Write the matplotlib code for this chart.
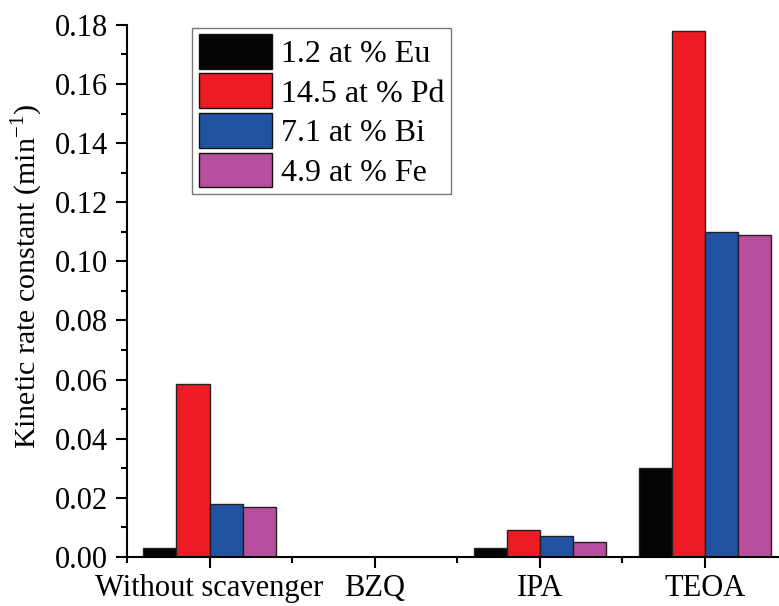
import matplotlib
matplotlib.use("Agg")
import matplotlib.pyplot as plt
import numpy as np
from matplotlib.ticker import MultipleLocator

categories = ["Without scavenger", "BZQ", "IPA", "TEOA"]
series_names = ["1.2 at % Eu", "14.5 at % Pd", "7.1 at % Bi", "4.9 at % Fe"]
eu = [0.003, 0.0, 0.003, 0.030]
pd_ = [0.0585, 0.0, 0.0092, 0.178]
bi = [0.018, 0.0, 0.0071, 0.110]
fe = [0.017, 0.0, 0.005, 0.109]
colors = ["#050505", "#ED1C24", "#2151A1", "#B84F9E"]

plt.rcParams['font.family'] = ['Liberation Serif', 'DejaVu Serif']
plt.rcParams['mathtext.fontset'] = 'custom'
plt.rcParams['mathtext.rm'] = 'Liberation Serif'

fig = plt.figure(figsize=(7.79, 6.06), dpi=100)
ax = fig.add_axes([0.163, 0.081, 0.837, 0.878])

x = np.arange(len(categories))
width = 0.2
data = [eu, pd_, bi, fe]
for i, (vals, name, c) in enumerate(zip(data, series_names, colors)):
    ax.bar(x + (i - 1.5) * width, vals, width, color=c, edgecolor="#222222",
           linewidth=1.0, label=name)

ax.set_xlim(-0.5, 3.45)
ax.set_ylim(0, 0.18)
ax.set_xticks(x)
ax.set_xticklabels(categories)
ax.xaxis.set_minor_locator(MultipleLocator(0.5))
ax.yaxis.set_major_locator(MultipleLocator(0.02))
ax.yaxis.set_minor_locator(MultipleLocator(0.01))
ax.yaxis.set_major_formatter(matplotlib.ticker.FormatStrFormatter('%.2f'))

for s in ['top', 'right']:
    ax.spines[s].set_visible(False)
for s in ['left', 'bottom']:
    ax.spines[s].set_linewidth(1.5)

ax.tick_params(axis='both', which='major', length=8, width=1.5, labelsize=22, direction='out')
ax.tick_params(axis='both', which='minor', length=4.5, width=1.5, direction='out')
ax.tick_params(axis='x', which='major', pad=4)
ax.tick_params(axis='y', which='major', pad=5.5)

ax.set_ylabel("Kinetic rate constant (min$^{\\mathrm{-1}}$)", fontsize=21.5)
ax.yaxis.set_label_coords(-0.126, 0.528)

leg = ax.legend(loc='upper left', bbox_to_anchor=(0.1, 0.995), fontsize=23,
                handlelength=2.3, handleheight=1.3, labelspacing=0.14,
                handletextpad=0.28, borderpad=0.2, borderaxespad=0.0,
                fancybox=False, frameon=True)
leg.get_frame().set_edgecolor("#555555")
leg.get_frame().set_linewidth(1.0)
for p in leg.get_patches():
    p.set_edgecolor("#111111")

fig.savefig("out.png", dpi=100)
